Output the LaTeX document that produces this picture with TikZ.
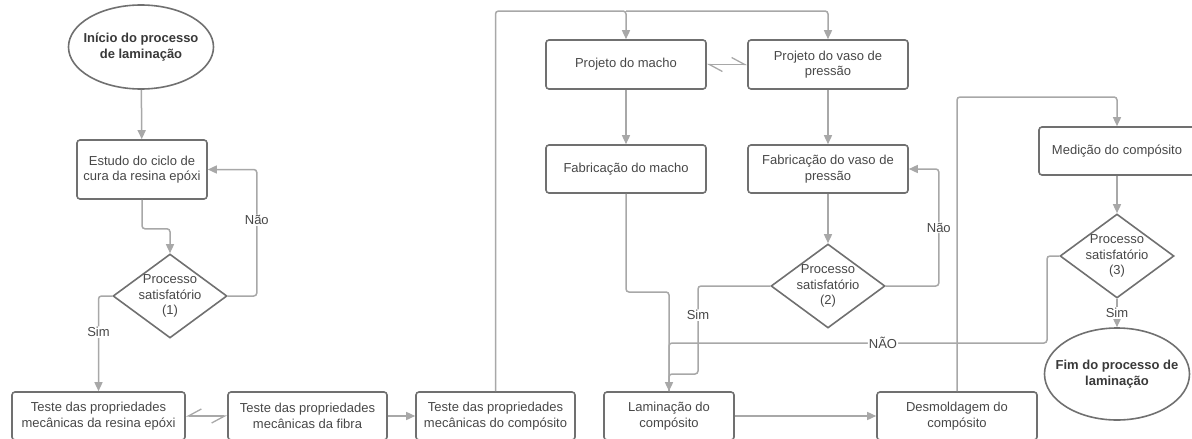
\documentclass[tikz,border=0pt]{standalone}
\usepackage{fontspec}
\setmainfont{Liberation Sans}
\usetikzlibrary{shapes,arrows.meta}
\definecolor{linha}{HTML}{A8A8A8}
\definecolor{borda}{HTML}{707070}
\definecolor{texto}{HTML}{474747}

\begin{document}
\begin{tikzpicture}[x=1pt,y=-1pt,font=\fontsize{13}{15.5}\selectfont]
\tikzstyle{caixa}=[rectangle,draw=borda,line width=1.6pt,rounded corners=3pt,text=texto,align=center,minimum height=48pt,inner sep=2pt]
\tikzstyle{decisao}=[diamond,draw=borda,line width=1.6pt,text=texto,align=center,aspect=1.357,minimum width=114pt,minimum height=84pt,inner sep=-4pt]
\tikzstyle{terminal}=[ellipse,draw=borda,line width=1.6pt,text=texto!80!black,align=center,inner xsep=-12pt,inner ysep=0pt,font=\fontsize{13}{15.5}\selectfont\bfseries]
\tikzstyle{ligacao}=[draw=linha,line width=1.5pt,rounded corners=3pt]
\tikzstyle{seta}=[ligacao,-{Triangle[length=9pt,width=8pt]}]
\tikzstyle{dupla}=[draw=linha,line width=1.3pt,{Straight Barb[harpoon,length=13pt,width=14pt]}-{Straight Barb[harpoon,length=13pt,width=14pt]}]
\tikzstyle{duplainv}=[draw=linha,line width=1.3pt,{Straight Barb[harpoon,swap,length=13pt,width=14pt]}-{Straight Barb[harpoon,swap,length=13pt,width=14pt]}]
\tikzstyle{rotulo}=[fill=white,text=texto,inner sep=1pt]
\useasboundingbox (0,0) rectangle (1192,439);

\node[terminal,minimum width=145pt,minimum height=84pt] (inicio) at (141,47) {Início do processo\\de laminação};
\node[caixa,minimum width=130pt,minimum height=59pt] (estudo) at (142,169.5) {Estudo do ciclo de\\cura da resina epóxi};
\node[decisao] (sat1) at (170,296) {Processo\\satisfatório\\(1)};
\node[caixa,minimum width=173pt] (resina) at (98.5,416) {Teste das propriedades\\mecânicas da resina epóxi};
\node[caixa,minimum width=159pt] (fibra) at (307.5,416) {Teste das propriedades\\mecânicas da fibra};
\node[caixa,minimum width=159pt] (compos) at (495.5,416) {Teste das propriedades\\mecânicas do compósito};
\node[caixa,minimum width=160pt,minimum height=49pt] (pmacho) at (626,64.5) {Projeto do macho};
\node[caixa,minimum width=160pt,minimum height=49pt] (pvaso) at (828,64.5) {Projeto do vaso de\\pressão};
\node[caixa,minimum width=160pt] (fmacho) at (626,169) {Fabricação do macho};
\node[caixa,minimum width=160pt] (fvaso) at (828,169) {Fabricação do vaso de\\pressão};
\node[decisao] (sat2) at (828,286) {Processo\\satisfatório\\(2)};
\node[caixa,minimum width=130pt] (lamin) at (669,416) {Laminação do\\compósito};
\node[caixa,minimum width=160pt] (desmold) at (957,416) {Desmoldagem do\\compósito};
\node[caixa,minimum width=156pt] (medicao) at (1117,151) {Medição do compósito};
\node[decisao] (sat3) at (1117,256) {Processo\\satisfatório\\(3)};
\node[terminal,minimum width=145pt,minimum height=92pt] (fim) at (1117,374) {Fim do processo de\\laminação};

\coordinate (topo) at (626,11);
\coordinate (jmacho) at (669,292);
\coordinate (jsim) at (698,374);
\coordinate (jnao) at (1047,343);
\coordinate (topo2) at (1117,97);

\draw[seta] (inicio) -- (estudo);
\draw[seta] (estudo.south) -- ++(0,29) -| (sat1.north);
\draw[seta] (sat1.east) -- ++(29,0) |- node[rotulo,pos=0.3]{Não} (estudo.east);
\draw[seta] (sat1.west) -| node[rotulo,pos=0.69]{Sim} (resina.north);
\draw[duplainv] (resina) -- (fibra);
\draw[seta] (fibra) -- (compos);
\draw[seta] (compos.north) |- (topo) -- (pmacho.north);
\draw[seta] (topo) -| (pvaso.north);
\draw[dupla] (pmacho) -- (pvaso);
\draw[seta] (pmacho) -- (fmacho);
\draw[seta] (pvaso) -- (fvaso);
\draw[seta] (fmacho.south) |- (jmacho) -- (lamin.north);
\draw[seta] (fvaso) -- (sat2);
\draw[seta] (sat2.east) -- ++(53,0) |- node[rotulo,pos=0.25]{Não} (fvaso.east);
\draw[ligacao] (sat2.west) -| node[rotulo,pos=0.665]{Sim} (jsim) -| (lamin.north);
\draw[ligacao] (sat3.west) -| (jnao) -| node[rotulo,pos=0.217]{NÃO} (lamin.north);
\draw[seta] (lamin) -- (desmold);
\draw[seta] (desmold.north) |- (topo2) -- (medicao.north);
\draw[seta] (medicao) -- (sat3);
\draw[seta] (sat3) -- node[rotulo]{Sim} (fim);
\end{tikzpicture}
\end{document}
